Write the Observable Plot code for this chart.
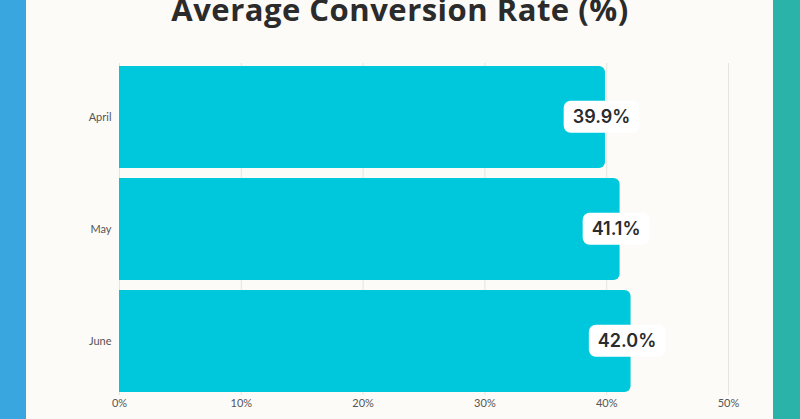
<!DOCTYPE html>
<html>
<head>
<meta charset="utf-8">
<script src="https://cdn.jsdelivr.net/npm/d3@7"></script>
<script src="https://cdn.jsdelivr.net/npm/@observablehq/plot@0.6"></script>
<style>
  html, body { margin: 0; padding: 0; }
  #wrap {
    position: relative; width: 800px; height: 419px; overflow: hidden;
    background: linear-gradient(to right, #3AA6E0 0px, #3AA6E0 26px, #FDFBF7 26px, #FDFBF7 773px, #2AB3A9 773px, #2AB3A9 800px);
  }
  #title {
    position: absolute; left: 0; width: 800px; top: -6.5px; text-align: center;
    font-family: "Open Sans", sans-serif; font-weight: 700; font-size: 31px; line-height: 31px;
    color: #2b2b2b; letter-spacing: 0.5px; white-space: nowrap;
  }
  #chart { position: absolute; left: 0; top: 0; }
</style>
</head>
<body>
<div id="wrap">
  <div id="chart"></div>
  <div id="title">Average Conversion Rate (%)</div>
</div>
<script>
const months = ["April", "May", "June"];
const rates = [39.9, 41.1, 42.0];
const xTicks = [0, 10, 20, 30, 40, 50];

const data = months.map((m, i) => ({month: m, value: rates[i]}));
const barColor = "#00C8DC";
const fmt = d => d.toFixed(1) + "%";

const chart = Plot.plot({
  width: 800,
  height: 419,
  marginTop: 63,
  marginBottom: 24,
  marginLeft: 119,
  marginRight: 72,
  style: {background: "transparent", fontFamily: "Lato, sans-serif", fontSize: "11px", color: "#555"},
  x: {domain: [0, 50], ticks: xTicks, tickFormat: d => d + "%", tickSize: 0, tickPadding: 4, label: null},
  y: {domain: months, paddingInner: 0.09, paddingOuter: 0.024, tickSize: 0, tickPadding: 8, label: null},
  marks: [
    Plot.gridX(xTicks, {stroke: "#e6e4df", strokeOpacity: 1, strokeWidth: 1}),
    Plot.barX(data, {x: "value", y: "month", fill: barColor, rx: 6}),
    Plot.barX(data, {x: d => d.value / 2, y: "month", fill: barColor}),
    Plot.text(data, {
      x: "value", y: "month", text: d => fmt(d.value), dx: -4,
      fontSize: 18, fontWeight: 600, fill: "#2b2b2b", fontFamily: "Inter, sans-serif"
    })
  ]
});
document.getElementById("chart").appendChild(chart);

// white rounded boxes behind value labels
const labelSet = new Set(rates.map(fmt));
d3.select(chart).selectAll("text").filter(function() {
  return labelSet.has(this.textContent.trim());
}).each(function() {
  const bb = this.getBBox();
  const cy = bb.y + bb.height / 2;
  d3.select(this.parentNode).insert("rect", () => this)
    .attr("transform", this.getAttribute("transform"))
    .attr("x", bb.x - 9)
    .attr("width", bb.width + 18)
    .attr("y", cy - 16)
    .attr("height", 32)
    .attr("rx", 7)
    .attr("fill", "#ffffff");
});
</script>
</body>
</html>
